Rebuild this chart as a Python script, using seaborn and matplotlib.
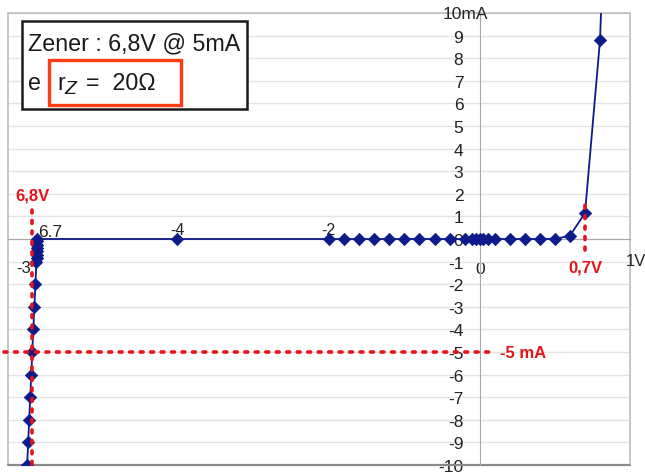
import numpy as np
import pandas as pd
import seaborn as sns
import matplotlib.pyplot as plt
from matplotlib.patches import Rectangle

# measured points of the zener characteristic (V, mA)
rev_v = [-6.9, -6.88, -6.86, -6.84, -6.82, -6.8, -6.78, -6.76, -6.74, -6.72,
         -6.718, -6.715, -6.712, -6.709, -6.706, -6.703, -6.7]
rev_i = [-10, -9, -8, -7, -6, -5, -4, -3, -2, -1,
         -0.85, -0.7, -0.55, -0.4, -0.25, -0.1, 0]
off_v = [-4, -2, -1.8, -1.6, -1.4, -1.2, -1.0, -0.8, -0.6, -0.4, -0.2,
         -0.1, -0.05, 0, 0.02, 0.05, 0.1, 0.2, 0.3, 0.4, 0.5]
off_i = [0] * 21
fwd_v = [0.6, 0.7, 0.8]
fwd_i = [0.15, 1.15, 8.8]
tail_v = [0.81]          # curve leaves the top of the chart
tail_i = [10.6]

y_ticks = list(range(-10, 11))

pts = pd.DataFrame({"V": rev_v + off_v + fwd_v, "I": rev_i + off_i + fwd_i})
curve = pd.DataFrame({"V": rev_v + off_v + fwd_v + tail_v,
                      "I": rev_i + off_i + fwd_i + tail_i})

sns.set_style("white")
plt.rcParams["font.family"] = ["Liberation Sans", "DejaVu Sans"]

fig = plt.figure(figsize=(6.45, 4.77), dpi=100)
W, H = 645, 477
ax = fig.add_axes([8 / W, 1 - 466 / H, (630 - 8) / W, (466 - 14) / H])

navy = "#0c1a8a"
sns.lineplot(data=curve, x="V", y="I", sort=False, estimator=None,
             color=navy, lw=1.3, ax=ax, zorder=4)
sns.scatterplot(data=pts, x="V", y="I", marker="D", s=40, color=navy,
                edgecolor=navy, linewidth=0.5, ax=ax, zorder=5)

# the original axis is stretched unevenly: piecewise linear V -> pixel
kx = [-20, -6.9, -4, 0, 5]
kp = [-453 - 13.1 * 51.7, -453, -303, 0, 750]
ax.set_xscale("function", functions=(lambda x: np.interp(x, kx, kp),
                                     lambda p: np.interp(p, kp, kx)))
ax.set_xlim(-7.27, 1.0)
ax.set_ylim(-10, 10)
ax.set_xlabel("")
ax.set_ylabel("")

# axes through the origin
ax.spines["left"].set_position(("data", 0))
ax.spines["bottom"].set_position(("data", 0))
ax.spines["left"].set_color("#a8a8a8")
ax.spines["bottom"].set_color("#a8a8a8")
ax.spines["top"].set_visible(False)
ax.spines["right"].set_visible(False)
ax.add_patch(Rectangle((0, 0), 1, 1, transform=ax.transAxes, fill=False,
                       edgecolor="#bdbdbd", lw=1.2, clip_on=False, zorder=1))
ax.plot([0, 1], [0, 0], transform=ax.transAxes, color="#8a8a8a", lw=1.6,
        clip_on=False, zorder=1)

ax.set_yticks(y_ticks)
ax.set_yticklabels(["" if t == 10 else str(t) for t in y_ticks])
ax.tick_params(axis="y", direction="out", length=2.5, width=1, color="#a8a8a8",
               pad=9.5, labelsize=12.5, labelcolor="#222222")
ax.set_xticks([0])
ax.set_xticklabels(["0"])
ax.tick_params(axis="x", length=0, pad=16, labelsize=12.5, labelcolor="#222222")
ax.yaxis.grid(True, color="#e4e4e4", lw=1)
ax.xaxis.grid(False)

ax.annotate("10mA", xy=(0, 10), xytext=(-37, 0), textcoords="offset pixels",
            ha="left", va="center", fontsize=12.5, color="#222222")
ax.annotate("1V", xy=(1.0, 0), xytext=(-4, -22), textcoords="offset pixels",
            ha="left", va="center", fontsize=12, color="#222222",
            annotation_clip=False)

# data labels of the original spreadsheet
ax.annotate("-4", xy=(-4, 0), xytext=(0, 10), textcoords="offset pixels",
            ha="center", va="center", fontsize=11.5, color="#222222")
ax.annotate("-2", xy=(-2, 0), xytext=(0, 10), textcoords="offset pixels",
            ha="center", va="center", fontsize=11.5, color="#222222")
ax.annotate("6.7", xy=(-6.7, 0), xytext=(1, 8), textcoords="offset pixels",
            ha="left", va="center", fontsize=12.5, color="#222222")
ax.annotate("-3", xy=(-6.76, -1.25), xytext=(-3, 0), textcoords="offset pixels",
            ha="right", va="center", fontsize=12, color="#222222",
            annotation_clip=False)

# red guide lines
red = "#e3151b"
dots = dict(color=red, lw=2.6, ls=(0, (0.8, 2.1)), dash_capstyle="round",
            zorder=6, clip_on=False)
ax.plot([-6.8, -6.8], [1.3, -10], **dots)
ax.plot([-7.35, 0.07], [-5, -5], **dots)
ax.plot([0.7, 0.7], [-0.5, 1.7], **dots)
ax.text(-6.8, 1.6, "6,8V", color=red, fontsize=12, fontweight="bold",
        ha="center", va="bottom")
ax.text(0.13, -5, "-5 mA", color=red, fontsize=12, fontweight="bold",
        ha="left", va="center")
ax.text(0.7, -1.25, "0,7V", color=red, fontsize=12, fontweight="bold",
        ha="center", va="center")

# header box
fig.patches.append(Rectangle((22 / W, 1 - 110 / H), 225 / W, 88 / H,
                             transform=fig.transFigure, facecolor="white",
                             edgecolor="#1a1a1a", lw=1.8, zorder=10))
fig.patches.append(Rectangle((49 / W, 1 - 106 / H), 132 / W, 45 / H,
                             transform=fig.transFigure, fill=False,
                             edgecolor="#ff3b12", lw=2.4, zorder=11))
hfont = dict(family="Liberation Sans", color="#1a1a1a", zorder=12, ha="left")
t1 = fig.text(28 / W, 1 - 44 / H, "Zener : 6,8V @ 5mA", fontsize=18,
              va="center", **hfont)
t2 = fig.text(28 / W, 1 - 83 / H, "e", fontsize=18, va="center", **hfont)
t3 = fig.text(57 / W, 1 - 83 / H, "r", fontsize=18, va="center", **hfont)
t4 = fig.text(64 / W, 1 - 90 / H, "Z", fontsize=15, va="center",
              style="italic", **hfont)
t5 = fig.text(86 / W, 1 - 83 / H, "=  20\u03a9", fontsize=18, va="center",
              **hfont)

# shrink the header text so it fits the box like the narrow original font
r = fig.canvas.get_renderer()
w1 = t1.get_window_extent(r).width
scale = min(1.0, 212 / w1)
for t in (t1, t2, t3, t4, t5):
    t.set_fontsize(t.get_fontsize() * scale)

plt.savefig("out.png", dpi=100)
